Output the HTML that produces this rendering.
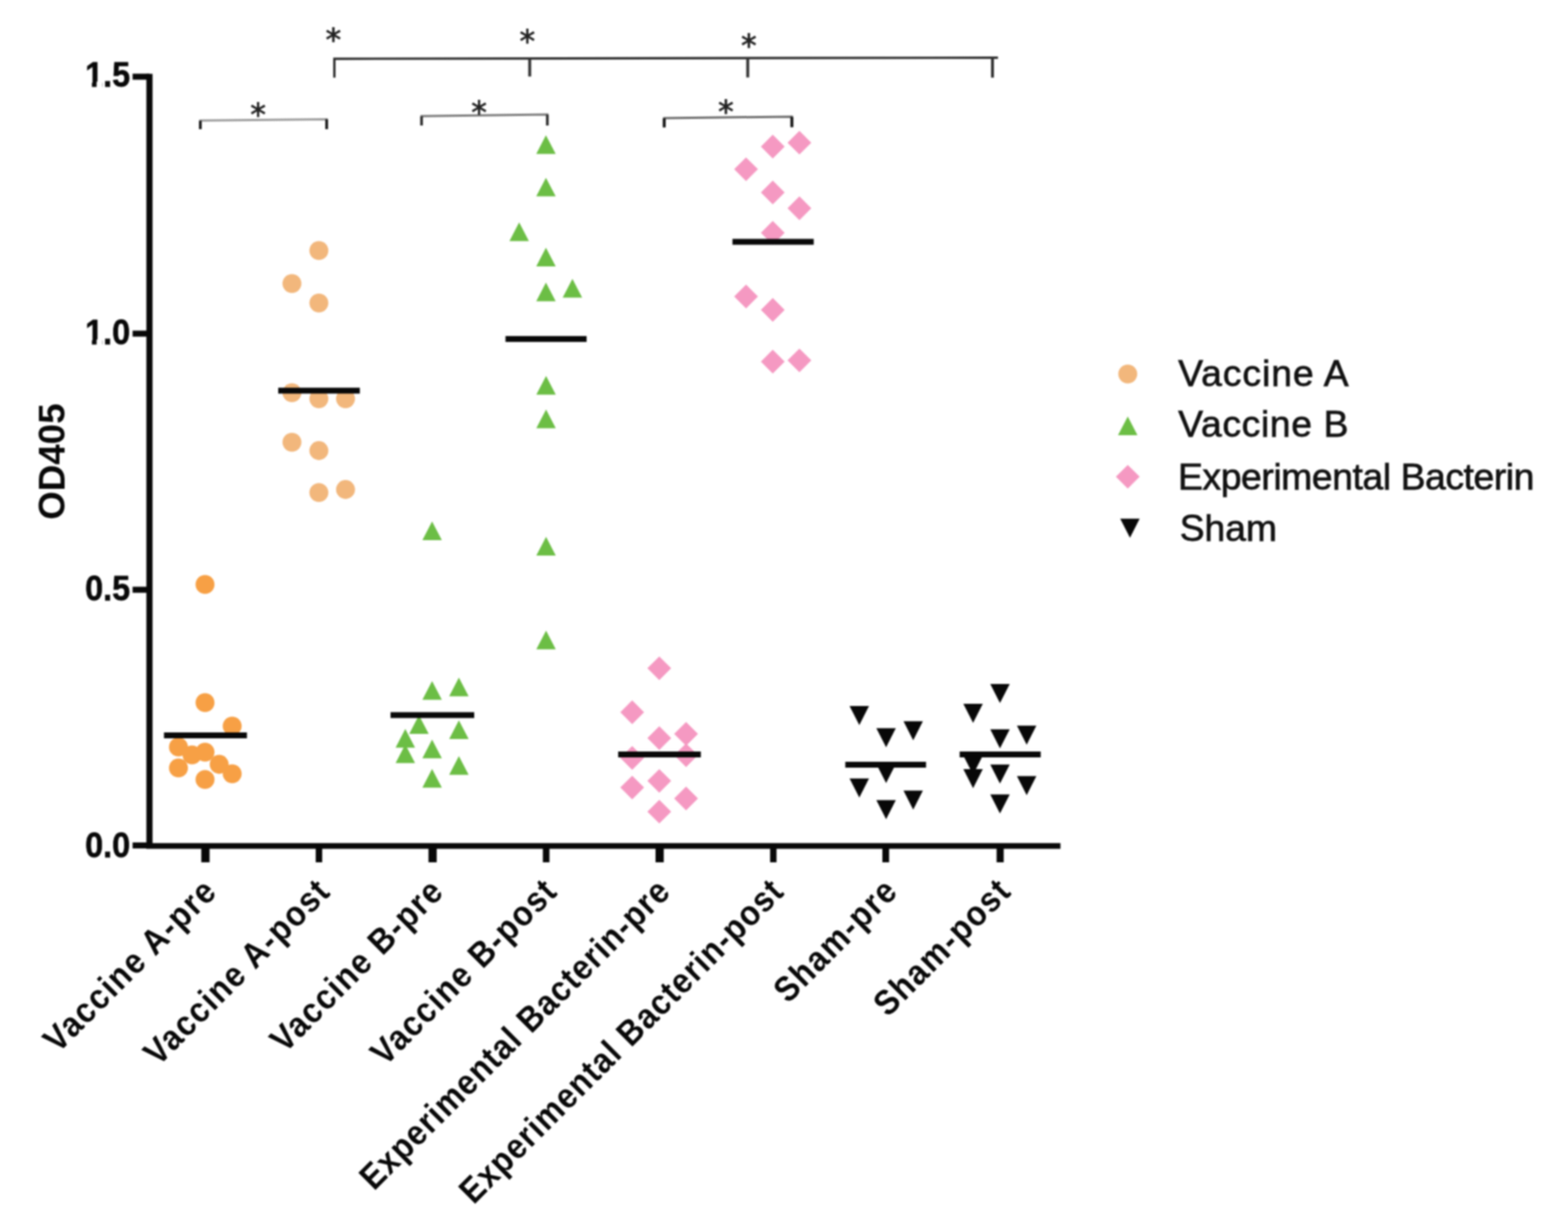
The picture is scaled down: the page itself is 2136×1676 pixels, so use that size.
<!DOCTYPE html>
<html><head><meta charset="utf-8"><title>OD405</title>
<style>
html,body{margin:0;padding:0;background:#fff;width:2136px;height:1676px;overflow:hidden}
svg{display:block;filter:blur(0.9px)}
.tl{font-family:"Liberation Sans",Arial,sans-serif;font-weight:bold;font-size:49px;fill:#080808;stroke:#080808;stroke-width:0.8px}
.yt{font-family:"Liberation Sans",Arial,sans-serif;font-weight:bold;font-size:50px;fill:#080808}
.xl{font-family:"Liberation Sans",Arial,sans-serif;font-weight:bold;font-size:48px;fill:#080808}
.lg{font-family:"Liberation Sans",Arial,sans-serif;font-size:50.8px;fill:#111;stroke:#111;stroke-width:0.9px}
.st{font-family:"DejaVu Sans",sans-serif;font-size:42.5px;fill:#222;stroke:#222;stroke-width:0.9px}
</style></head><body>
<svg width="2136" height="1676" viewBox="0 0 2136 1676" xmlns="http://www.w3.org/2000/svg">
<circle cx="279.3" cy="796.4" r="12.9" fill="#F7A045"/>
<circle cx="279.3" cy="957.4" r="12.9" fill="#F7A045"/>
<circle cx="316.3" cy="989.3" r="12.9" fill="#F7A045"/>
<circle cx="243.1" cy="1017.9" r="12.9" fill="#F7A045"/>
<circle cx="261.6" cy="1028.7" r="12.9" fill="#F7A045"/>
<circle cx="279.3" cy="1024.8" r="12.9" fill="#F7A045"/>
<circle cx="298.6" cy="1041.5" r="12.9" fill="#F7A045"/>
<circle cx="316.3" cy="1054.3" r="12.9" fill="#F7A045"/>
<circle cx="243.1" cy="1046.4" r="12.9" fill="#F7A045"/>
<circle cx="279.3" cy="1062.2" r="12.9" fill="#F7A045"/>
<circle cx="434.4" cy="341.4" r="12.9" fill="#F2B77C"/>
<circle cx="397.7" cy="386.3" r="12.9" fill="#F2B77C"/>
<circle cx="434.4" cy="412.8" r="12.9" fill="#F2B77C"/>
<circle cx="397.7" cy="535.1" r="12.9" fill="#F2B77C"/>
<circle cx="434.4" cy="543.3" r="12.9" fill="#F2B77C"/>
<circle cx="470.7" cy="543.3" r="12.9" fill="#F2B77C"/>
<circle cx="397.7" cy="602.6" r="12.9" fill="#F2B77C"/>
<circle cx="434.4" cy="614.0" r="12.9" fill="#F2B77C"/>
<circle cx="434.4" cy="671.2" r="12.9" fill="#F2B77C"/>
<circle cx="470.7" cy="667.0" r="12.9" fill="#F2B77C"/>
<path d="M588.6 710.5L601.9 736.0L575.4 736.0Z" fill="#6CBE45"/>
<path d="M588.6 928.0L601.9 953.5L575.4 953.5Z" fill="#6CBE45"/>
<path d="M625.1 923.2L638.4 948.8L611.9 948.8Z" fill="#6CBE45"/>
<path d="M570.7 974.5L584.0 1000.0L557.5 1000.0Z" fill="#6CBE45"/>
<path d="M625.1 981.6L638.4 1007.1L611.9 1007.1Z" fill="#6CBE45"/>
<path d="M552.1 993.2L565.4 1018.8L538.9 1018.8Z" fill="#6CBE45"/>
<path d="M552.1 1014.2L565.4 1039.8L538.9 1039.8Z" fill="#6CBE45"/>
<path d="M588.6 1007.8L601.9 1033.2L575.4 1033.2Z" fill="#6CBE45"/>
<path d="M625.1 1030.2L638.4 1055.8L611.9 1055.8Z" fill="#6CBE45"/>
<path d="M588.6 1047.8L601.9 1073.2L575.4 1073.2Z" fill="#6CBE45"/>
<path d="M743.7 184.2L757.0 209.8L730.5 209.8Z" fill="#6CBE45"/>
<path d="M743.7 242.2L757.0 267.6L730.5 267.6Z" fill="#6CBE45"/>
<path d="M707.2 302.9L720.5 328.4L694.0 328.4Z" fill="#6CBE45"/>
<path d="M743.7 337.4L757.0 362.9L730.5 362.9Z" fill="#6CBE45"/>
<path d="M743.7 385.1L757.0 410.6L730.5 410.6Z" fill="#6CBE45"/>
<path d="M779.8 379.9L793.0 405.4L766.5 405.4Z" fill="#6CBE45"/>
<path d="M743.9 512.2L757.1 537.8L730.6 537.8Z" fill="#6CBE45"/>
<path d="M743.9 558.0L757.1 583.5L730.6 583.5Z" fill="#6CBE45"/>
<path d="M743.9 731.6L757.1 757.1L730.6 757.1Z" fill="#6CBE45"/>
<path d="M743.9 859.2L757.1 884.8L730.6 884.8Z" fill="#6CBE45"/>
<path d="M898.1 894.4L914.3 910.6L898.1 926.8L881.9 910.6Z" fill="#F599C2"/>
<path d="M861.2 954.3L877.4 970.5L861.2 986.7L845.0 970.5Z" fill="#F599C2"/>
<path d="M898.1 989.5L914.3 1005.7L898.1 1021.9L881.9 1005.7Z" fill="#F599C2"/>
<path d="M934.6 983.8L950.8 1000.0L934.6 1016.2L918.4 1000.0Z" fill="#F599C2"/>
<path d="M861.2 1016.6L877.4 1032.8L861.2 1049.0L845.0 1032.8Z" fill="#F599C2"/>
<path d="M934.6 1012.9L950.8 1029.1L934.6 1045.3L918.4 1029.1Z" fill="#F599C2"/>
<path d="M861.2 1056.9L877.4 1073.1L861.2 1089.3L845.0 1073.1Z" fill="#F599C2"/>
<path d="M898.1 1047.9L914.3 1064.1L898.1 1080.3L881.9 1064.1Z" fill="#F599C2"/>
<path d="M934.6 1071.8L950.8 1088.0L934.6 1104.2L918.4 1088.0Z" fill="#F599C2"/>
<path d="M898.1 1089.7L914.3 1105.9L898.1 1122.1L881.9 1105.9Z" fill="#F599C2"/>
<path d="M1052.7 183.5L1068.9 199.7L1052.7 215.9L1036.5 199.7Z" fill="#F599C2"/>
<path d="M1089.0 178.2L1105.2 194.4L1089.0 210.6L1072.8 194.4Z" fill="#F599C2"/>
<path d="M1016.3 214.4L1032.5 230.6L1016.3 246.8L1000.1 230.6Z" fill="#F599C2"/>
<path d="M1052.7 246.1L1068.9 262.3L1052.7 278.5L1036.5 262.3Z" fill="#F599C2"/>
<path d="M1089.0 267.6L1105.2 283.8L1089.0 300.0L1072.8 283.8Z" fill="#F599C2"/>
<path d="M1052.7 301.1L1068.9 317.3L1052.7 333.5L1036.5 317.3Z" fill="#F599C2"/>
<path d="M1016.3 387.8L1032.5 404.0L1016.3 420.2L1000.1 404.0Z" fill="#F599C2"/>
<path d="M1052.7 406.1L1068.9 422.3L1052.7 438.5L1036.5 422.3Z" fill="#F599C2"/>
<path d="M1052.7 476.5L1068.9 492.7L1052.7 508.9L1036.5 492.7Z" fill="#F599C2"/>
<path d="M1089.0 474.9L1105.2 491.1L1089.0 507.3L1072.8 491.1Z" fill="#F599C2"/>
<path d="M1157.3 962.1L1183.8 962.1L1170.6 988.1Z" fill="#080808"/>
<path d="M1193.8 992.2L1220.3 992.2L1207.1 1018.2Z" fill="#080808"/>
<path d="M1230.8 982.7L1257.2 982.7L1244.0 1008.7Z" fill="#080808"/>
<path d="M1193.8 1041.0L1220.3 1041.0L1207.1 1067.0Z" fill="#080808"/>
<path d="M1157.3 1060.8L1183.8 1060.8L1170.6 1086.8Z" fill="#080808"/>
<path d="M1230.8 1077.2L1257.2 1077.2L1244.0 1103.2Z" fill="#080808"/>
<path d="M1193.8 1090.3L1220.3 1090.3L1207.1 1116.3Z" fill="#080808"/>
<path d="M1349.0 932.1L1375.5 932.1L1362.2 958.1Z" fill="#080808"/>
<path d="M1312.3 958.9L1338.8 958.9L1325.6 984.9Z" fill="#080808"/>
<path d="M1349.0 993.8L1375.5 993.8L1362.2 1019.8Z" fill="#080808"/>
<path d="M1385.3 988.7L1411.8 988.7L1398.6 1014.7Z" fill="#080808"/>
<path d="M1312.3 1029.5L1338.8 1029.5L1325.6 1055.5Z" fill="#080808"/>
<path d="M1312.3 1047.9L1338.8 1047.9L1325.6 1073.9Z" fill="#080808"/>
<path d="M1349.0 1041.8L1375.5 1041.8L1362.2 1067.8Z" fill="#080808"/>
<path d="M1385.3 1057.6L1411.8 1057.6L1398.6 1083.6Z" fill="#080808"/>
<path d="M1349.0 1082.4L1375.5 1082.4L1362.2 1108.4Z" fill="#080808"/>
<rect x="223.4" y="998.0" width="113.0" height="8" fill="#080808"/>
<rect x="379.0" y="528.3" width="111.2" height="8" fill="#080808"/>
<rect x="532.0" y="970.4" width="114.0" height="8" fill="#080808"/>
<rect x="688.6" y="457.9" width="110.5" height="8" fill="#080808"/>
<rect x="842.1" y="1024.0" width="112.6" height="8" fill="#080808"/>
<rect x="997.8" y="325.5" width="110.7" height="8" fill="#080808"/>
<rect x="1151.5" y="1038.0" width="110.0" height="8" fill="#080808"/>
<rect x="1307.3" y="1024.0" width="110.4" height="8" fill="#080808"/>
<rect x="199.4" y="100.6" width="8.4" height="1055.4" fill="#080808"/>
<rect x="199.3" y="1148.8" width="1245.3" height="7.8" fill="#080808"/>
<rect x="180.6" y="100.4" width="23.0" height="8.2" fill="#080808"/>
<rect x="180.6" y="450.5" width="23.0" height="8.2" fill="#080808"/>
<rect x="180.6" y="799.5" width="23.0" height="8.2" fill="#080808"/>
<rect x="180.6" y="1147.9" width="23.0" height="8.2" fill="#080808"/>
<rect x="274.2" y="1150" width="11.3" height="25.0" fill="#080808"/>
<rect x="430.1" y="1150" width="8.8" height="25.0" fill="#080808"/>
<rect x="583.7" y="1150" width="11.2" height="25.0" fill="#080808"/>
<rect x="739.5" y="1150" width="9" height="25.0" fill="#080808"/>
<rect x="893.0" y="1150" width="11.2" height="25.0" fill="#080808"/>
<rect x="1049.1" y="1150" width="8.7" height="25.0" fill="#080808"/>
<rect x="1202.0" y="1150" width="9.2" height="25.0" fill="#080808"/>
<rect x="1357.6" y="1150" width="9.7" height="25.0" fill="#080808"/>
<text transform="translate(177.2,117.7) scale(0.9,1)" text-anchor="end" class="tl">1.5</text>
<text transform="translate(177.2,469.0) scale(0.9,1)" text-anchor="end" class="tl">1.0</text>
<text transform="translate(177.2,818.4) scale(0.9,1)" text-anchor="end" class="tl">0.5</text>
<text transform="translate(177.2,1167.9) scale(0.9,1)" text-anchor="end" class="tl">0.0</text>
<rect x="115.5" y="111.3" width="9.7" height="8.9" fill="#fff"/>
<rect x="131.6" y="111.3" width="8.0" height="8.9" fill="#fff"/>
<rect x="115.5" y="462.6" width="9.7" height="8.9" fill="#fff"/>
<rect x="131.6" y="462.6" width="8.0" height="8.9" fill="#fff"/>
<text transform="translate(88.4,629) rotate(-90)" text-anchor="middle" class="yt">OD405</text>
<text transform="translate(296.7,1218.3) rotate(-45) scale(0.9,1)" text-anchor="end" textLength="342.3" lengthAdjust="spacing" class="xl">Vaccine A-pre</text>
<text transform="translate(451.2,1218.3) rotate(-45) scale(0.9,1)" text-anchor="end" textLength="370.4" lengthAdjust="spacing" class="xl">Vaccine A-post</text>
<text transform="translate(605.8,1218.2) rotate(-45) scale(0.9,1)" text-anchor="end" textLength="342.6" lengthAdjust="spacing" class="xl">Vaccine B-pre</text>
<text transform="translate(760.4,1218.1) rotate(-45) scale(0.9,1)" text-anchor="end" textLength="370.6" lengthAdjust="spacing" class="xl">Vaccine B-post</text>
<text transform="translate(915.0,1218.0) rotate(-45) scale(0.9,1)" text-anchor="end" textLength="637.3" lengthAdjust="spacing" class="xl">Experimental Bacterin-pre</text>
<text transform="translate(1069.4,1218.1) rotate(-45) scale(0.9,1)" text-anchor="end" textLength="666.6" lengthAdjust="spacing" class="xl">Experimental Bacterin-post</text>
<text transform="translate(1224.2,1217.8) rotate(-45) scale(0.9,1)" text-anchor="end" textLength="236.8" lengthAdjust="spacing" class="xl">Sham-pre</text>
<text transform="translate(1378.6,1217.9) rotate(-45) scale(0.9,1)" text-anchor="end" textLength="265.7" lengthAdjust="spacing" class="xl">Sham-post</text>
<path d="M272.9 176V164.2L445 162.5V176" fill="none" stroke="#9a9a9a" stroke-width="3"/>
<path d="M272.9 176V164.5M445 176V162.6" fill="none" stroke="#151515" stroke-width="3.6"/>
<path d="M574.3 171V158.2L745.6 155.9V171" fill="none" stroke="#7a7a7a" stroke-width="3"/>
<path d="M574.3 171V158.5M745.6 171V156.2" fill="none" stroke="#2a2a2a" stroke-width="3.6"/>
<path d="M904.8 173.5V161L1078.7 158.9V173.3" fill="none" stroke="#6a6a6a" stroke-width="3"/>
<path d="M904.8 173.5V161.3M1078.7 173.3V159.2" fill="none" stroke="#151515" stroke-width="4"/>
<path d="M455.5 105.8V80.1L1359.5 78.6" fill="none" stroke="#2a2a2a" stroke-width="3.2"/>
<path d="M721.6 79.5V104.2M1018.6 79V105.4M1352 78.7V105.8" fill="none" stroke="#333" stroke-width="4"/>
<text x="351.5" y="170.9" text-anchor="middle" class="st">*</text>
<text x="652.5" y="167.8" text-anchor="middle" class="st">*</text>
<text x="988.8" y="167.2" text-anchor="middle" class="st">*</text>
<text x="454" y="68.9" text-anchor="middle" class="st">*</text>
<text x="718.4" y="71.4" text-anchor="middle" class="st">*</text>
<text x="1020" y="77.0" text-anchor="middle" class="st">*</text>
<circle cx="1536.3" cy="509.6" r="12.9" fill="#F2B77C"/>
<text x="1605" y="525.7" textLength="232.1" lengthAdjust="spacing" class="lg">Vaccine A</text>
<path d="M1536.3 567.5L1549.5 593.0L1523.0 593.0Z" fill="#6CBE45"/>
<text x="1605" y="594.7" textLength="232" lengthAdjust="spacing" class="lg">Vaccine B</text>
<path d="M1536.3 633.4L1552.5 649.6L1536.3 665.8L1520.1 649.6Z" fill="#F599C2"/>
<text x="1604.8" y="666.6" textLength="485.5" lengthAdjust="spacing" class="lg">Experimental Bacterin</text>
<path d="M1526.0 706.8L1552.5 706.8L1539.3 732.8Z" fill="#080808"/>
<text x="1607" y="736.6" textLength="132.7" lengthAdjust="spacing" class="lg">Sham</text>
</svg>
</body></html>
